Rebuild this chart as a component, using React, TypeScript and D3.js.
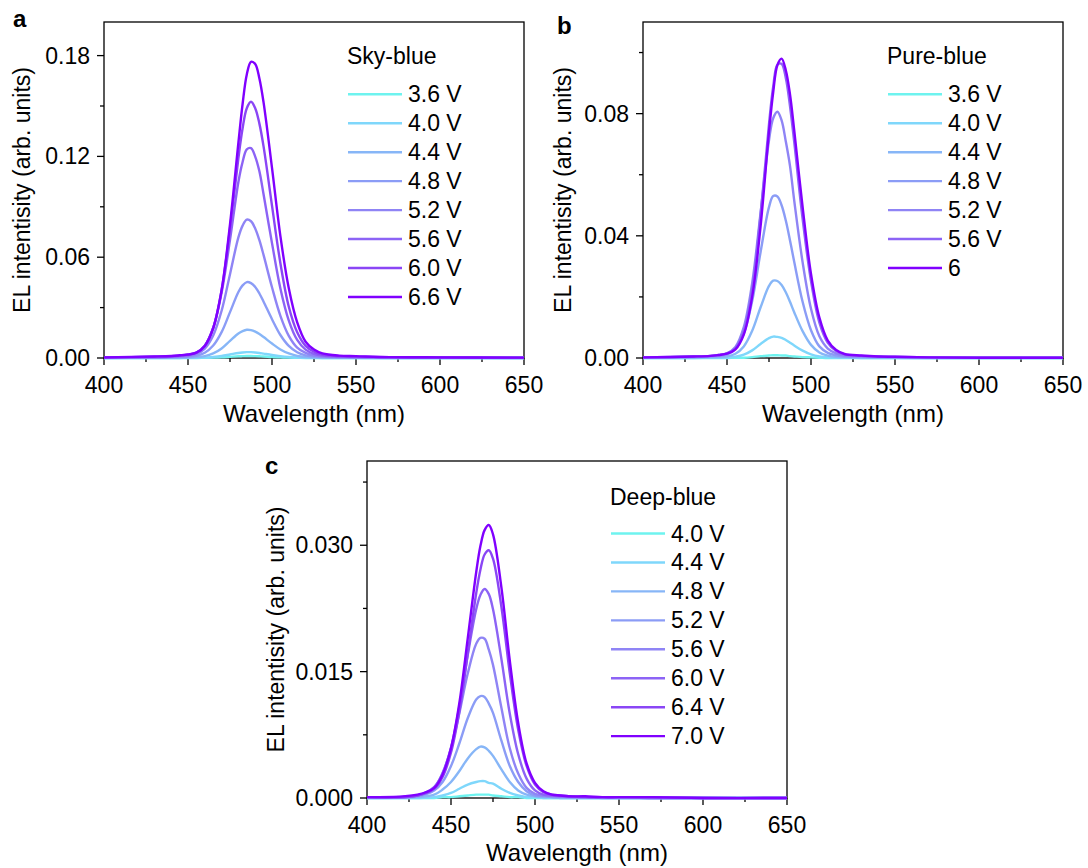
import React from "react";
import * as d3 from "d3";

// ---------- data ----------
const wlSky = [400, 430, 440, 445, 450, 455, 460, 465, 470, 475, 480, 482.5, 485, 487.5, 490, 492.5, 495, 500, 505, 510, 515, 520, 525, 530, 540, 550, 570, 600, 650];
const wlPure = [400, 430, 440, 445, 450, 455, 460, 465, 470, 475, 477.5, 480, 482.5, 485, 487.5, 490, 495, 500, 505, 510, 515, 520, 530, 540, 550, 570, 600, 650];
const wlDeep = [400, 430, 440, 445, 450, 455, 460, 465, 467.5, 470, 472.5, 475, 480, 485, 490, 495, 500, 505, 510, 515, 520, 530, 540, 550, 570, 600, 650];

const skyLabels = ["3.6 V", "4.0 V", "4.4 V", "4.8 V", "5.2 V", "5.6 V", "6.0 V", "6.6 V"];
const sky36 = [0, 0, 0, 0, 0, 0, 0.0001, 0.0002, 0.0004, 0.0007, 0.001, 0.0011, 0.0012, 0.0012, 0.0011, 0.001, 0.0009, 0.0006, 0.0004, 0.0002, 0.0001, 0, 0, 0, 0, 0, 0, 0, 0];
const sky40 = [0, 0, 0, 0, 0.0001, 0.0001, 0.0002, 0.0006, 0.0012, 0.0021, 0.003, 0.0033, 0.0035, 0.0035, 0.0033, 0.003, 0.0026, 0.0018, 0.0011, 0.0006, 0.0003, 0.0001, 0.0001, 0, 0, 0, 0, 0, 0];
const sky44 = [0, 0.0001, 0.0001, 0.0002, 0.0003, 0.0005, 0.0011, 0.0027, 0.0057, 0.0102, 0.0146, 0.016, 0.0168, 0.0166, 0.0157, 0.0143, 0.0125, 0.0086, 0.0051, 0.0027, 0.0013, 0.0006, 0.0003, 0.0002, 0.0001, 0.0001, 0, 0, 0];
const sky48 = [0.0001, 0.0002, 0.0004, 0.0005, 0.0007, 0.0013, 0.0031, 0.0074, 0.0154, 0.0273, 0.0393, 0.0432, 0.0452, 0.0446, 0.0423, 0.0384, 0.0335, 0.0231, 0.0137, 0.0072, 0.0034, 0.0016, 0.0008, 0.0005, 0.0003, 0.0002, 0.0001, 0.0001, 0];
const sky52 = [0.0002, 0.0004, 0.0007, 0.0008, 0.0012, 0.0023, 0.0056, 0.0134, 0.0281, 0.0499, 0.0718, 0.0788, 0.0824, 0.0814, 0.0771, 0.0701, 0.0612, 0.0421, 0.0251, 0.0132, 0.0062, 0.003, 0.0015, 0.0009, 0.0006, 0.0004, 0.0002, 0.0002, 0.0001];
const sky56 = [0.0003, 0.0006, 0.0009, 0.0013, 0.0018, 0.0031, 0.0073, 0.0179, 0.0389, 0.0703, 0.1048, 0.1167, 0.1242, 0.1249, 0.1199, 0.1111, 0.0973, 0.0684, 0.0414, 0.0223, 0.0108, 0.005, 0.0025, 0.0015, 0.0009, 0.0006, 0.0004, 0.0003, 0.0001];
const sky60 = [0.0003, 0.0008, 0.0011, 0.0014, 0.002, 0.0032, 0.0073, 0.018, 0.0404, 0.077, 0.119, 0.1368, 0.1487, 0.1525, 0.1487, 0.1395, 0.1258, 0.0907, 0.0564, 0.0305, 0.0153, 0.0072, 0.0037, 0.002, 0.0011, 0.0008, 0.0005, 0.0003, 0.0002];
const sky66 = [0.0004, 0.0009, 0.0012, 0.0016, 0.0021, 0.0032, 0.0072, 0.0177, 0.0403, 0.0796, 0.1282, 0.1512, 0.1688, 0.1763, 0.175, 0.1664, 0.152, 0.1132, 0.0725, 0.0415, 0.0212, 0.0097, 0.005, 0.0027, 0.0014, 0.0011, 0.0005, 0.0004, 0.0002];

const pureLabels = ["3.6 V", "4.0 V", "4.4 V", "4.8 V", "5.2 V", "5.6 V", "6"];
const pure36 = [0, 0, 0, 0, 0, 0.0001, 0.0001, 0.0003, 0.0006, 0.0008, 0.0009, 0.0009, 0.0008, 0.0008, 0.0006, 0.0005, 0.0003, 0.0002, 0.0001, 0, 0, 0, 0, 0, 0, 0, 0, 0];
const pure40 = [0, 0, 0.0001, 0.0001, 0.0001, 0.0004, 0.0011, 0.0025, 0.0046, 0.0065, 0.007, 0.0069, 0.0066, 0.0059, 0.005, 0.0041, 0.0024, 0.0012, 0.0005, 0.0002, 0.0001, 0.0001, 0, 0, 0, 0, 0, 0];
const pure44 = [0.0001, 0.0001, 0.0002, 0.0003, 0.0005, 0.0014, 0.0038, 0.0089, 0.0166, 0.0236, 0.0253, 0.0252, 0.0239, 0.0215, 0.0184, 0.015, 0.0088, 0.0043, 0.0018, 0.0008, 0.0004, 0.0003, 0.0002, 0.0001, 0.0001, 0, 0, 0];
const pure48 = [0.0001, 0.0003, 0.0005, 0.0006, 0.0011, 0.003, 0.008, 0.0187, 0.0347, 0.0494, 0.053, 0.0529, 0.05, 0.045, 0.0385, 0.0315, 0.0184, 0.0091, 0.0038, 0.0017, 0.0009, 0.0005, 0.0003, 0.0003, 0.0002, 0.0001, 0.0001, 0.0001];
const pure52 = [0.0002, 0.0004, 0.0006, 0.0009, 0.0015, 0.0036, 0.0101, 0.0246, 0.0476, 0.0713, 0.0785, 0.0806, 0.0778, 0.0709, 0.0629, 0.0516, 0.0314, 0.0161, 0.0071, 0.0031, 0.0015, 0.0008, 0.0006, 0.0004, 0.0003, 0.0002, 0.0001, 0.0001];
const pure56 = [0.0002, 0.0005, 0.0007, 0.001, 0.0015, 0.0032, 0.0087, 0.0223, 0.047, 0.0766, 0.0888, 0.096, 0.0963, 0.0917, 0.0825, 0.0708, 0.0456, 0.0252, 0.0116, 0.005, 0.0023, 0.0012, 0.0007, 0.0005, 0.0004, 0.0002, 0.0001, 0.0001];
const pure60 = [0.0002, 0.0005, 0.0007, 0.001, 0.0014, 0.0028, 0.0077, 0.0201, 0.0432, 0.0741, 0.087, 0.0959, 0.098, 0.0942, 0.0863, 0.0746, 0.0495, 0.0275, 0.0132, 0.0057, 0.0026, 0.0013, 0.0008, 0.0005, 0.0004, 0.0002, 0.0001, 0.0001];

const deepLabels = ["4.0 V", "4.4 V", "4.8 V", "5.2 V", "5.6 V", "6.0 V", "6.4 V", "7.0 V"];
const deep40 = [0, 0, 0, 0.0001, 0.0001, 0.0002, 0.0003, 0.0004, 0.0004, 0.0004, 0.0004, 0.0003, 0.0002, 0.0001, 0.0001, 0, 0, 0, 0, 0, 0, 0, 0, 0, 0, 0, 0];
const deep44 = [0, 0, 0.0001, 0.0003, 0.0006, 0.0011, 0.0016, 0.0019, 0.002, 0.002, 0.0018, 0.0017, 0.0011, 0.0006, 0.0003, 0.0001, 0.0001, 0, 0, 0, 0, 0, 0, 0, 0, 0, 0];
const deep48 = [0, 0.0001, 0.0004, 0.001, 0.0019, 0.0032, 0.0047, 0.0058, 0.0061, 0.006, 0.0056, 0.005, 0.0034, 0.0019, 0.0009, 0.0004, 0.0002, 0.0001, 0.0001, 0, 0, 0, 0, 0, 0, 0, 0];
const deep52 = [0.0001, 0.0002, 0.0009, 0.0019, 0.0038, 0.0065, 0.0095, 0.0117, 0.0121, 0.012, 0.0112, 0.0101, 0.0068, 0.0038, 0.0019, 0.0008, 0.0003, 0.0002, 0.0001, 0.0001, 0.0001, 0.0001, 0, 0, 0, 0, 0];
const deep56 = [0.0001, 0.0003, 0.0013, 0.003, 0.0059, 0.0101, 0.0148, 0.0183, 0.019, 0.0189, 0.0176, 0.0158, 0.0107, 0.0059, 0.0029, 0.0012, 0.0005, 0.0003, 0.0002, 0.0002, 0.0001, 0.0001, 0.0001, 0.0001, 0, 0, 0];
const deep60 = [0.0001, 0.0003, 0.0013, 0.0029, 0.006, 0.0109, 0.017, 0.0224, 0.0241, 0.0248, 0.0242, 0.0224, 0.0165, 0.01, 0.0052, 0.0023, 0.0009, 0.0004, 0.0003, 0.0002, 0.0002, 0.0001, 0.0001, 0.0001, 0, 0, 0];
const deep64 = [0.0001, 0.0003, 0.0011, 0.0025, 0.0054, 0.0103, 0.0172, 0.0243, 0.0271, 0.0289, 0.0294, 0.0284, 0.0227, 0.0148, 0.0081, 0.0038, 0.0016, 0.0007, 0.0004, 0.0003, 0.0002, 0.0001, 0.0001, 0.0001, 0.0001, 0, 0];
const deep70 = [0.0001, 0.0004, 0.0012, 0.0028, 0.0059, 0.0113, 0.019, 0.0268, 0.0299, 0.0318, 0.0324, 0.0313, 0.025, 0.0163, 0.0089, 0.0041, 0.0018, 0.0008, 0.0004, 0.0003, 0.0002, 0.0002, 0.0001, 0.0001, 0.0001, 0, 0];

const xMajor = [400, 450, 500, 550, 600, 650];
const xMinor = [425, 475, 525, 575, 625];
const skyYMajor = [0, 0.06, 0.12, 0.18];
const skyYMinor = [0.03, 0.09, 0.15];
const pureYMajor = [0, 0.04, 0.08];
const pureYMinor = [0.02, 0.06, 0.1];
const deepYMajor = [0, 0.015, 0.03];
const deepYMinor = [0.0075, 0.0225, 0.0375];

const ramp8 = ["#6ef3ef", "#7fd7fb", "#87b6f7", "#8b9cf6", "#8f84f5", "#8c63f5", "#8a46f5", "#8000ff"];
const ramp7 = ["#6ef3ef", "#7fd7fb", "#87b6f7", "#8b9cf6", "#8f84f5", "#8c63f5", "#8000ff"];

const FONT = "'Liberation Sans', Arial, Helvetica, sans-serif";

type PanelProps = {
  left: number; top: number; width: number; height: number;
  yMax: number; yMajor: number[]; yMinor: number[]; yDigits: number;
  wl: number[]; series: number[][]; labels: string[]; colors: string[];
  legendTitle: string; legendX: number; legendTitleY: number; legendRowY: number;
  letter: string; letterX: number; letterY: number; yTitleOffset: number; xTitleOffset: number;
};

function Panel(p: PanelProps) {
  const x = d3.scaleLinear().domain([400, 650]).range([p.left, p.left + p.width]);
  const y = d3.scaleLinear().domain([0, p.yMax]).range([p.top + p.height, p.top]);
  const line = d3
    .line<number>()
    .x((_, i) => x(p.wl[i]))
    .y((d) => y(d))
    .curve(d3.curveCatmullRom.alpha(0.5));
  const bottom = p.top + p.height;
  const rowGap = 28.95;
  const fs = 23;
  return (
    <g fontFamily={FONT}>
      <rect x={p.left} y={p.top} width={p.width} height={p.height} fill="none" stroke="#000" strokeWidth={1.3} />
      {xMajor.map((t) => (
        <g key={"xM" + t}>
          <line x1={x(t)} x2={x(t)} y1={bottom} y2={bottom + 7} stroke="#000" strokeWidth={1.3} />
          <text x={x(t)} y={bottom + 35} fontSize={fs} textAnchor="middle">{t}</text>
        </g>
      ))}
      {xMinor.map((t) => (
        <line key={"xm" + t} x1={x(t)} x2={x(t)} y1={bottom} y2={bottom + 4} stroke="#000" strokeWidth={1.3} />
      ))}
      {p.yMajor.map((t) => (
        <g key={"yM" + t}>
          <line x1={p.left - 7} x2={p.left} y1={y(t)} y2={y(t)} stroke="#000" strokeWidth={1.3} />
          <text x={p.left - 14} y={y(t) + 8} fontSize={fs} textAnchor="end">{t.toFixed(p.yDigits)}</text>
        </g>
      ))}
      {p.yMinor.map((t) => (
        <line key={"ym" + t} x1={p.left - 4} x2={p.left} y1={y(t)} y2={y(t)} stroke="#000" strokeWidth={1.3} />
      ))}
      <text x={p.left + p.width / 2} y={bottom + p.xTitleOffset} fontSize={24} textAnchor="middle">Wavelength (nm)</text>
      <text
        transform={`translate(${p.left - p.yTitleOffset},${p.top + p.height / 2}) rotate(-90)`}
        fontSize={fs}
        textAnchor="middle"
      >
        EL intentisity (arb. units)
      </text>
      <text x={p.letterX} y={p.letterY} fontSize={24} fontWeight="bold">{p.letter}</text>
      {p.series.map((s, i) => (
        <path key={"s" + i} d={line(s) || ""} fill="none" stroke={p.colors[i]} strokeWidth={2.4} strokeLinejoin="round" />
      ))}
      <text x={p.legendX - 1} y={p.legendTitleY} fontSize={fs}>{p.legendTitle}</text>
      {p.labels.map((lab, i) => {
        const ry = p.legendRowY + i * rowGap;
        return (
          <g key={"l" + i}>
            <line x1={p.legendX} x2={p.legendX + 54} y1={ry} y2={ry} stroke={p.colors[i]} strokeWidth={2.4} />
            <text x={p.legendX + 60} y={ry + 8} fontSize={fs}>{lab}</text>
          </g>
        );
      })}
    </g>
  );
}

export default function App() {
  return (
    <svg width={1088} height={868} style={{ position: "absolute", left: 0, top: 0, background: "#fff" }}>
      <rect width={1088} height={868} fill="#fff" />
      <Panel
        left={104} top={22} width={420} height={336}
        yMax={0.2} yMajor={skyYMajor} yMinor={skyYMinor} yDigits={2}
        wl={wlSky} series={[sky36, sky40, sky44, sky48, sky52, sky56, sky60, sky66]}
        labels={skyLabels} colors={ramp8}
        legendTitle="Sky-blue" legendX={348} legendTitleY={64} legendRowY={94.3}
        letter="a" letterX={13} letterY={27} yTitleOffset={74} xTitleOffset={64}
      />
      <Panel
        left={643} top={22} width={420} height={336}
        yMax={0.11} yMajor={pureYMajor} yMinor={pureYMinor} yDigits={2}
        wl={wlPure} series={[pure36, pure40, pure44, pure48, pure52, pure56, pure60]}
        labels={pureLabels} colors={ramp7}
        legendTitle="Pure-blue" legendX={888} legendTitleY={64} legendRowY={94.3}
        letter="b" letterX={557} letterY={34} yTitleOffset={72} xTitleOffset={64}
      />
      <Panel
        left={367} top={461} width={420} height={337}
        yMax={0.04} yMajor={deepYMajor} yMinor={deepYMinor} yDigits={3}
        wl={wlDeep} series={[deep40, deep44, deep48, deep52, deep56, deep60, deep64, deep70]}
        labels={deepLabels} colors={ramp8}
        legendTitle="Deep-blue" legendX={611} legendTitleY={505} legendRowY={533.5}
        letter="c" letterX={265} letterY={474} yTitleOffset={83} xTitleOffset={63}
      />
    </svg>
  );
}
